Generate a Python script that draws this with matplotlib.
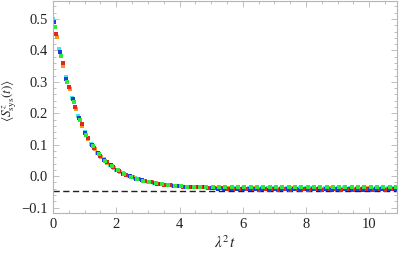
import numpy as np
import matplotlib
matplotlib.use("Agg")
import matplotlib.pyplot as plt
from matplotlib.ticker import MultipleLocator

# ------------------------------------------------------------
# data (lambda^2 t, <S^z_sys(t)>)
# each run is sampled every 0.2 starting from its own t0
# ------------------------------------------------------------
t_step = 0.2
t_start = {"cyan": 0.00, "blue": 0.02, "green": 0.05, "red": 0.10, "orange": 0.12}

s_cyan = [0.500, 0.405, 0.315, 0.250, 0.190, 0.140, 0.103, 0.075, 0.053, 0.035,
          0.021, 0.009, 0.000, -0.007, -0.013, -0.018, -0.022, -0.025, -0.028, -0.030,
          -0.032, -0.033, -0.034, -0.035, -0.036, -0.037, -0.037, -0.038, -0.037, -0.038,
          -0.038, -0.037, -0.038, -0.038, -0.037, -0.038, -0.038, -0.037, -0.038, -0.038,
          -0.037, -0.038, -0.038, -0.037, -0.038, -0.038, -0.037, -0.038, -0.038, -0.037,
          -0.038, -0.038, -0.037, -0.038, -0.038]
s_blue = [0.491, 0.396, 0.309, 0.244, 0.185, 0.136, 0.100, 0.073, 0.051, 0.034,
          0.020, 0.008, -0.001, -0.008, -0.013, -0.018, -0.022, -0.025, -0.028, -0.030,
          -0.032, -0.033, -0.034, -0.035, -0.036, -0.038, -0.040, -0.041, -0.041, -0.042,
          -0.042, -0.041, -0.042, -0.042, -0.043, -0.042, -0.041, -0.042, -0.042, -0.043,
          -0.042, -0.041, -0.042, -0.042, -0.043, -0.042, -0.041, -0.042, -0.042, -0.043,
          -0.042, -0.041, -0.042, -0.042, -0.042]
s_green = [0.476, 0.383, 0.299, 0.235, 0.178, 0.131, 0.096, 0.070, 0.049, 0.032,
           0.018, 0.007, -0.002, -0.009, -0.014, -0.019, -0.023, -0.026, -0.029, -0.031,
           -0.032, -0.033, -0.034, -0.035, -0.035, -0.035, -0.034, -0.035, -0.034, -0.034,
           -0.035, -0.034, -0.034, -0.035, -0.034, -0.034, -0.033, -0.034, -0.035, -0.034,
           -0.034, -0.035, -0.034, -0.034, -0.033, -0.034, -0.035, -0.034, -0.034, -0.035,
           -0.034, -0.034, -0.033, -0.034, -0.034]
s_red = [0.453, 0.360, 0.283, 0.220, 0.165, 0.122, 0.089, 0.064, 0.044, 0.028,
         0.015, 0.005, -0.004, -0.010, -0.016, -0.020, -0.024, -0.027, -0.029, -0.031,
         -0.033, -0.034, -0.035, -0.036, -0.037, -0.038, -0.039, -0.040, -0.041, -0.041,
         -0.042, -0.042, -0.043, -0.042, -0.042, -0.043, -0.042, -0.043, -0.042, -0.042,
         -0.043, -0.042, -0.043, -0.042, -0.042, -0.043, -0.042, -0.043, -0.042, -0.042,
         -0.043, -0.042, -0.043, -0.042, -0.043]
s_orange = [0.443, 0.351, 0.276, 0.214, 0.160, 0.118, 0.086, 0.062, 0.042, 0.027,
            0.014, 0.004, -0.004, -0.010, -0.016, -0.020, -0.024, -0.027, -0.029, -0.031,
            -0.033, -0.034, -0.035, -0.036, -0.037, -0.038, -0.039, -0.039, -0.040, -0.040,
            -0.040, -0.039, -0.040, -0.040, -0.041, -0.040, -0.040, -0.039, -0.040, -0.040,
            -0.041, -0.040, -0.040, -0.039, -0.040, -0.040, -0.041, -0.040, -0.040, -0.039,
            -0.040, -0.040, -0.041, -0.040, -0.040]

steady_state = -0.048

x_ticks = [0, 2, 4, 6, 8, 10]
y_ticks = [-0.1, 0.0, 0.1, 0.2, 0.3, 0.4, 0.5]
y_tick_labels = ["\u22120.1", "0.0", "0.1", "0.2", "0.3", "0.4", "0.5"]

colors = {"cyan": "#3fe8ea", "orange": "#f39a1e", "red": "#e3261c",
          "blue": "#1f3ae0", "green": "#2ee83a"}
series = [("cyan", s_cyan), ("orange", s_orange), ("red", s_red),
          ("blue", s_blue), ("green", s_green)]

plt.rcParams["mathtext.fontset"] = "stix"
plt.rcParams["font.family"] = ["Liberation Serif", "DejaVu Serif"]

fig = plt.figure(figsize=(3.99, 2.6), dpi=100)
ax = fig.add_axes([0.133, 0.181, 0.862, 0.815])

ax.axhline(steady_state, color="#222222", lw=1.0, ls=(0, (4.5, 2.5)), zorder=1)

for name, vals in series:
    t = t_start[name] + t_step * np.arange(len(vals))
    ax.plot(t, vals, ls="none", marker="s", ms=2.3, mew=0,
            color=colors[name], zorder=2)

ax.set_xlim(0, 10.88)
ax.set_ylim(-0.117, 0.557)

ax.set_xticks(x_ticks)
ax.set_xticklabels([str(v) for v in x_ticks])
ax.set_yticks(y_ticks)
ax.set_yticklabels(y_tick_labels)
ax.xaxis.set_minor_locator(MultipleLocator(0.5))
ax.yaxis.set_minor_locator(MultipleLocator(0.02))

for s in ax.spines.values():
    s.set_color("#b5b5b5")
    s.set_linewidth(0.8)
ax.tick_params(which="both", direction="in", top=True, right=True,
               color="#b5b5b5", width=0.6, labelsize=10.5, labelcolor="#222222")
ax.tick_params(which="major", length=4, pad=4)
ax.tick_params(which="minor", length=2)

ax.set_xlabel(r"$\lambda^2 t$", fontsize=11, color="#222222", labelpad=2)
ax.set_ylabel(r"$\langle S^z_{\rm sys}(t)\rangle$", fontsize=9.5,
              color="#222222")
ax.yaxis.set_label_coords(-0.098, 0.53)

fig.savefig("out.png", dpi=100)
